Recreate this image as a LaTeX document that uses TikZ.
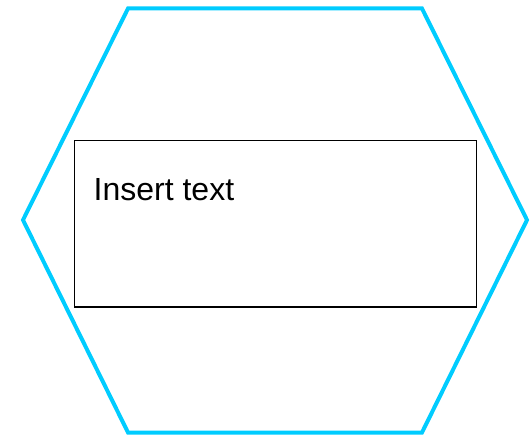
\documentclass[tikz,border=0pt]{standalone}
\usepackage{fontspec}
\setmainfont{Liberation Sans}
\definecolor{hexcyan}{HTML}{00CCFF}
\tikzset{
  hexline/.style={draw=hexcyan, line width=4pt, line join=miter},
  textbox/.style={draw=black, line width=1.3pt, minimum width=402pt, minimum height=166.5pt, inner sep=0pt, anchor=north west},
  label/.style={anchor=base west, inner sep=0pt, font=\fontsize{32}{38}\selectfont}
}
\begin{document}
\begin{tikzpicture}[x=1pt,y=-1pt]
\useasboundingbox (0,0) rectangle (530,438);
\draw[hexline] (128,8.5) -- (422,8.5) -- (527,220) -- (422,432.5) -- (128,432.5) -- (23,220) -- cycle;
\node[textbox] (box) at (73.5,140) {};
\node[label] (txt) at (93.5,201) {Insert text};
\end{tikzpicture}
\end{document}
